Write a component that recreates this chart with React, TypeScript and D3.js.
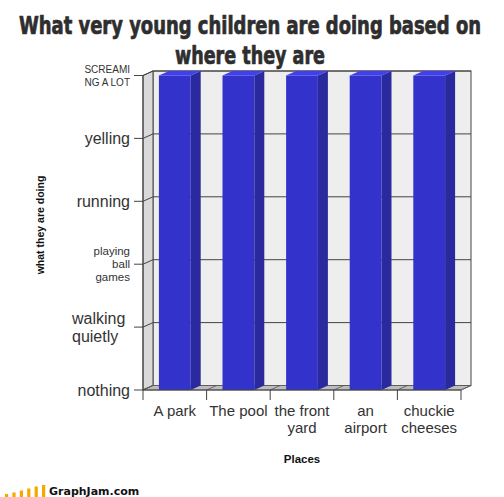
import * as d3 from 'd3';

// chart data
const categories = ['A park', 'The pool', 'the front yard', 'an airport', 'chuckie cheeses'];
const categoryLines = [['A park'], ['The pool'], ['the front', 'yard'], ['an', 'airport'], ['chuckie', 'cheeses']];
const levels = ['nothing', 'walking quietly', 'playing ball games', 'running', 'yelling', 'SCREAMING A LOT'];
const levelLines = [['nothing'], ['walking', 'quietly'], ['playing', 'ball', 'games'], ['running'], ['yelling'], ['SCREAMI', 'NG A LOT']];
const values = [5, 5, 5, 5, 5];
const titleLines = ['What  very young children are doing based on', 'where they are'];
const logoBars = [3, 4.5, 6.5, 8.5, 10.5, 12];

// label look per level
const levelFontSize = [16, 16, 11.5, 16, 16, 10];
const levelLineHeight = [0, 18, 13, 0, 0, 13];

const W = 504;
const H = 497;
const left = 143;
const right = 461;
const bottom = 390;
const top = 75.5;
const dx = 10;
const dy = -4.5;
const font = '"Liberation Sans", Arial, sans-serif';

export default function App() {
  const x = d3.scaleBand<string>().domain(categories).range([left, right]);
  const y = d3.scaleLinear().domain([0, levels.length - 1]).range([bottom, top]);
  const barW = x.bandwidth() * 0.5;
  const pts = (p: number[][]) => p.map(d => d.join(',')).join(' ');
  const boundaries = [...categories.map(c => x(c) as number), right];

  return (
    <svg width={W} height={H} style={{ position: 'absolute', left: 0, top: 0, background: '#fff' }}>
      {/* title */}
      {titleLines.map((t, i) => (
        <text key={i} x={250} y={33.5 + i * 30} textAnchor="middle"
          textLength={i === 0 ? 462 : 150} lengthAdjust="spacingAndGlyphs"
          stroke="#2e2e2e" strokeWidth={0.7} strokeLinejoin="round"
          style={{ font: 'bold 24px "DejaVu Sans Condensed", "DejaVu Sans", sans-serif', fill: '#2e2e2e' }}>{t}</text>
      ))}

      {/* back wall */}
      <rect x={left + dx} y={top + dy} width={right - left} height={bottom - top}
        fill="#eeeeee" stroke="#444" strokeWidth={1} />

      {/* side wall */}
      <polygon points={pts([[left, bottom], [left, top], [left + dx, top + dy], [left + dx, bottom + dy]])}
        fill="#d9d9d9" stroke="#444" strokeWidth={1} />

      {/* grid lines */}
      {levels.map((_, i) => (
        <polyline key={i} points={pts([[left - 9, y(i)], [left, y(i)], [left + dx, y(i) + dy], [right + dx, y(i) + dy]])}
          fill="none" stroke="#444" strokeWidth={1} />
      ))}

      {/* floor */}
      <polygon points={pts([[left, bottom], [right, bottom], [right + dx, bottom + dy], [left + dx, bottom + dy]])}
        fill="#bcbcbc" stroke="#555" strokeWidth={0.8} />
      {boundaries.map((b, i) => (
        <g key={i}>
          <line x1={b} y1={bottom} x2={b + dx} y2={bottom + dy} stroke="#555" strokeWidth={0.8} />
          <line x1={b} y1={bottom} x2={b} y2={bottom + 10} stroke="#444" strokeWidth={1} />
        </g>
      ))}

      {/* bars */}
      {categories.map((c, i) => {
        const x0 = (x(c) as number) + (x.bandwidth() - barW) / 2;
        const t = y(values[i]);
        return (
          <g key={c}>
            <polygon points={pts([[x0 + barW, t], [x0 + barW + dx, t + dy], [x0 + barW + dx, bottom + dy], [x0 + barW, bottom]])}
              fill="#2a2a9e" />
            <polygon points={pts([[x0, t], [x0 + dx, t + dy], [x0 + barW + dx, t + dy], [x0 + barW, t]])}
              fill="#4040f2" />
            <rect x={x0} y={t} width={barW} height={bottom - t} fill="#3333cc" />
          </g>
        );
      })}

      {/* axis lines */}
      <line x1={left} y1={top} x2={left} y2={bottom} stroke="#444" strokeWidth={1} />
      <line x1={left} y1={bottom} x2={right} y2={bottom} stroke="#444" strokeWidth={1} />

      {/* y labels */}
      {levelLines.map((lines, i) => {
        const fs = levelFontSize[i];
        const lh = levelLineHeight[i];
        const startAligned = lines.length === 2 && fs === 16;
        return lines.map((ln, k) => (
          <text key={i + '-' + k}
            x={startAligned ? 72 : 130}
            y={y(i) + (k - (lines.length - 1) / 2) * lh + 0.35 * fs}
            textAnchor={startAligned ? 'start' : 'end'}
            style={{ font: `${fs}px ${font}`, fill: '#333' }}>{ln}</text>
        ));
      })}

      {/* x labels */}
      {categoryLines.map((lines, i) => lines.map((ln, k) => (
        <text key={i + '-' + k} x={(x(categories[i]) as number) + x.bandwidth() / 2} y={416 + k * 16.5}
          textAnchor="middle" style={{ font: `15px ${font}`, fill: '#333' }}>{ln}</text>
      )))}

      {/* axis titles */}
      <text x={(left + right) / 2} y={462.5} textAnchor="middle"
        style={{ font: `bold 11.5px ${font}`, fill: '#111' }}>Places</text>
      <text transform="translate(44,225) rotate(-90)" textAnchor="middle"
        style={{ font: `bold 10.5px ${font}`, fill: '#111' }}>what they are doing</text>

      {/* logo */}
      {logoBars.map((h, i) => (
        <rect key={i} x={5 + i * 7.4} y={497 - h} width={3.2} height={h} fill="#f7a800" />
      ))}
      <text x={49} y={495} style={{ font: 'bold 11px "DejaVu Sans", sans-serif', fill: '#111' }}>GraphJam.com</text>
    </svg>
  );
}
